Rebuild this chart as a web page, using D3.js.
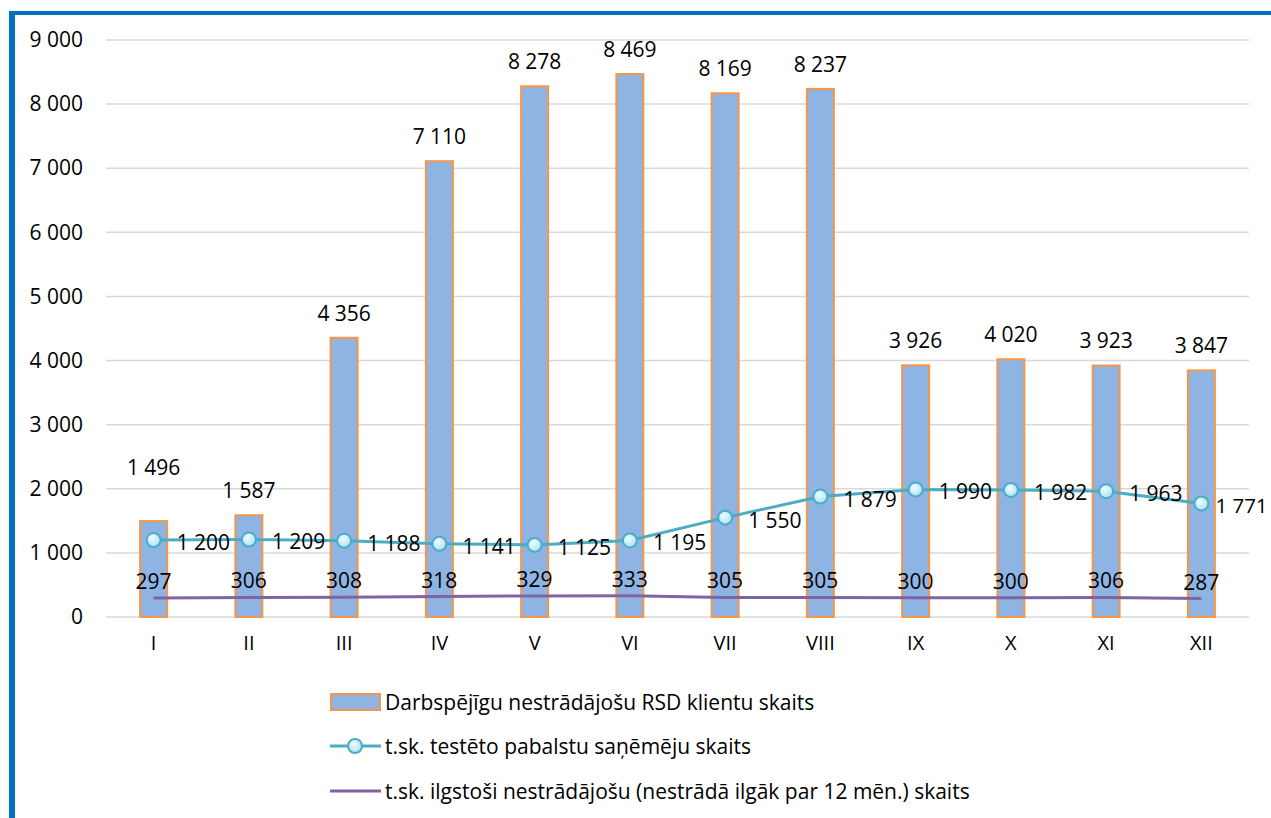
<!DOCTYPE html>
<html><head><meta charset="utf-8">
<script src="https://cdn.jsdelivr.net/npm/d3@7"></script>
<style>
html,body{margin:0;padding:0;background:#fff;}
svg{display:block;font-family:"Open Sans",sans-serif;}
</style></head>
<body>
<svg id="chart" width="1271" height="818"></svg>
<script>
const months = ["I","II","III","IV","V","VI","VII","VIII","IX","X","XI","XII"];
const clients = [1496,1587,4356,7110,8278,8469,8169,8237,3926,4020,3923,3847];
const tested = [1200,1209,1188,1141,1125,1195,1550,1879,1990,1982,1963,1771];
const longTerm = [297,306,308,318,329,333,305,305,300,300,306,287];
const yTicks = [0,1000,2000,3000,4000,5000,6000,7000,8000,9000];
const seriesNames = [
  "Darbspējīgu nestrādājošu RSD klientu skaits",
  "t.sk. testēto pabalstu saņēmēju skaits",
  "t.sk. ilgstoši nestrādājošu (nestrādā ilgāk par 12 mēn.) skaits"
];

const fmt = v => d3.format(",")(v).replace(/,/g, " ");
const svg = d3.select("#chart");
const FS = 21;

const defs = svg.append("defs");
const g1 = defs.append("radialGradient").attr("id","mk").attr("cx","40%").attr("cy","35%").attr("r","70%");
g1.append("stop").attr("offset","0%").attr("stop-color","#F2FBFE");
g1.append("stop").attr("offset","100%").attr("stop-color","#A6E0F3");

// frame
svg.append("rect").attr("x",9).attr("y",11).attr("width",1262).attr("height",4).attr("fill","#0070C0");
svg.append("rect").attr("x",9).attr("y",11).attr("width",6).attr("height",807).attr("fill","#0070C0");

const x = d3.scaleBand().domain(months).range([106,1249]);
const y = d3.scaleLinear().domain([0,9000]).range([617,40]);
const cx = m => x(m) + x.bandwidth()/2;

// grid
svg.append("g").selectAll("line").data(yTicks).join("line")
  .attr("x1",106).attr("x2",1249)
  .attr("y1",d=>y(d)).attr("y2",d=>y(d))
  .attr("stroke","#D9D9D9").attr("stroke-width",1.5);

// y axis labels
const yAxis = d3.axisLeft(y).tickValues(yTicks).tickFormat(fmt).tickSize(0).tickPadding(0);
const ya = svg.append("g").attr("transform","translate(83,0)").call(yAxis);
ya.select(".domain").remove();
ya.selectAll("text").attr("font-size",FS).attr("fill","#000").attr("font-family","'Open Sans',sans-serif");

// x axis labels
const xAxis = d3.axisBottom(x).tickSize(0).tickPadding(0);
const xa = svg.append("g").attr("transform","translate(0,636)").call(xAxis);
xa.select(".domain").remove();
xa.selectAll("text").attr("font-size",20).attr("fill","#000").attr("font-family","'Open Sans',sans-serif");

// bars
const bw = 27;
svg.append("g").selectAll("rect").data(clients).join("rect")
  .attr("x",(d,i)=>cx(months[i])-bw/2)
  .attr("y",d=>y(d))
  .attr("width",bw)
  .attr("height",d=>y(0)-y(d))
  .attr("fill","#8EB4E3").attr("stroke","#F79646").attr("stroke-width",2);

// bar labels
svg.append("g").selectAll("text").data(clients).join("text")
  .attr("x",(d,i)=>cx(months[i]))
  .attr("y",(d,i)=>y(d) - (i===0 ? 46 : 17))
  .attr("text-anchor","middle").attr("font-size",FS).attr("fill","#000")
  .text(fmt);

// long-term line
const line = d3.line().x((d,i)=>cx(months[i])).y(d=>y(d));
svg.append("path").datum(longTerm).attr("d",line)
  .attr("fill","none").attr("stroke","#8064A2").attr("stroke-width",3);
svg.append("g").selectAll("text").data(longTerm).join("text")
  .attr("x",(d,i)=>cx(months[i]))
  .attr("y",d=>y(d)-9)
  .attr("text-anchor","middle").attr("font-size",FS).attr("fill","#000")
  .text(fmt);

// tested line
svg.append("path").datum(tested).attr("d",line)
  .attr("fill","none").attr("stroke","#4BACC6").attr("stroke-width",3);
svg.append("g").selectAll("circle").data(tested).join("circle")
  .attr("cx",(d,i)=>cx(months[i])).attr("cy",d=>y(d)).attr("r",7)
  .attr("fill","url(#mk)").attr("stroke","#4BACC6").attr("stroke-width",2);
svg.append("g").selectAll("text").data(tested).join("text")
  .attr("x",(d,i)=>cx(months[i]) + (i===tested.length-1 ? 14 : 23))
  .attr("y",d=>y(d)+2)
  .attr("dominant-baseline","central")
  .attr("font-size",(d,i)=> i===tested.length-1 ? 20.5 : FS).attr("fill","#000")
  .text(fmt);

// legend
const lg = svg.append("g");
const ly = [702,746,791];
lg.append("rect").attr("x",331).attr("y",ly[0]-8).attr("width",49).attr("height",16)
  .attr("fill","#8EB4E3").attr("stroke","#F79646").attr("stroke-width",2);
lg.append("line").attr("x1",330).attr("x2",381).attr("y1",ly[1]).attr("y2",ly[1])
  .attr("stroke","#4BACC6").attr("stroke-width",3);
lg.append("circle").attr("cx",355).attr("cy",ly[1]).attr("r",7)
  .attr("fill","url(#mk)").attr("stroke","#4BACC6").attr("stroke-width",2);
lg.append("line").attr("x1",330).attr("x2",381).attr("y1",ly[2]).attr("y2",ly[2])
  .attr("stroke","#8064A2").attr("stroke-width",3);
lg.selectAll("text").data(seriesNames).join("text")
  .attr("x",385).attr("y",(d,i)=>ly[i])
  .attr("dominant-baseline","central")
  .attr("font-size",FS).attr("fill","#000")
  .text(d=>d);
</script>
</body></html>
